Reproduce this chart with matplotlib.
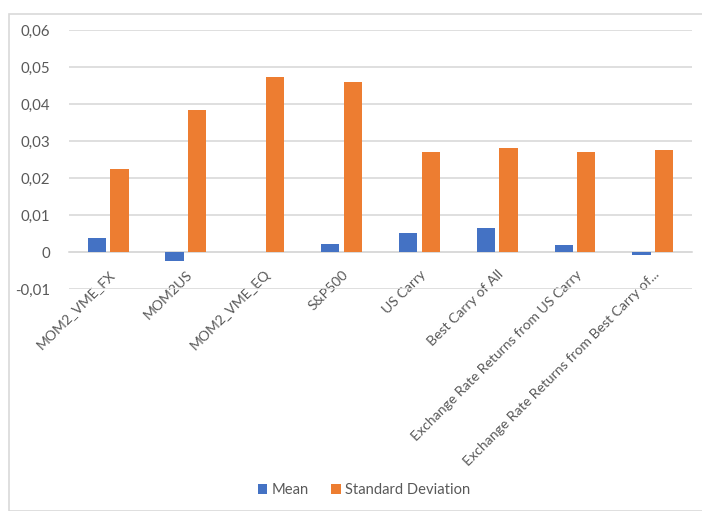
import matplotlib.pyplot as plt
import numpy as np
from matplotlib.patches import Rectangle

categories = ['MOM2_VME_FX', 'MOM2US', 'MOM2_VME_EQ', 'S&P500', 'US Carry',
              'Best Carry of All', 'Exchange Rate Returns from US Carry',
              'Exchange Rate Returns from Best Carry of...']
mean_vals = [0.0038, -0.0023, 0.0, 0.0022, 0.0052, 0.0065, 0.0020, -0.0009]
std_vals = [0.0224, 0.0385, 0.0474, 0.0460, 0.0269, 0.0281, 0.0269, 0.0276]
y_ticks = [-0.01, 0, 0.01, 0.02, 0.03, 0.04, 0.05, 0.06]
y_tick_labels = ['-0,01', '0', '0,01', '0,02', '0,03', '0,04', '0,05', '0,06']

plt.rcParams['font.family'] = ['Lato', 'DejaVu Sans']
text_col = '#595959'
grid_col = '#d9d9d9'

W, H = 702, 511
fig = plt.figure(figsize=(W / 100, H / 100), dpi=100)

# outer chart frame
fig.patches.append(Rectangle((9 / W, 0), 1, 1 - 14 / H, transform=fig.transFigure,
                             fill=False, edgecolor=grid_col, lw=1.2))

ax = fig.add_axes([69.4 / W, 1 - 289 / H, (692 - 69.4) / W, (289 - 30) / H])

x = np.arange(len(categories))
bw = 0.235
ax.bar(x - 0.148, mean_vals, bw, color='#4472C4', label='Mean', zorder=3)
ax.bar(x + 0.142, std_vals, bw, color='#ED7D31', label='Standard Deviation', zorder=3)

ax.set_xlim(-0.5, len(categories) - 0.5)
ax.set_ylim(-0.01, 0.06)
ax.set_yticks(y_ticks)
ax.set_yticklabels(y_tick_labels)
ax.yaxis.grid(True, color=grid_col, lw=1.2, zorder=0)

for s in ['top', 'right', 'left']:
    ax.spines[s].set_visible(False)
ax.spines['bottom'].set_position(('data', 0))
ax.spines['bottom'].set_color(grid_col)
ax.spines['bottom'].set_linewidth(1.2)
ax.spines['bottom'].set_zorder(2)

ax.set_xticks(x)
ax.set_xticklabels(categories, rotation=45, ha='right', va='top',
                   rotation_mode='anchor')
ax.tick_params(axis='x', length=0, pad=11.5, labelsize=10.1, colors=text_col)
ax.tick_params(axis='y', length=0, pad=14, labelsize=10.8, colors=text_col)

fig.legend(loc='center', bbox_to_anchor=(364 / W, 1 - 490 / H), ncol=2,
           frameon=False, fontsize=10.6, handlelength=0.65, handleheight=0.65,
           handletextpad=0.3, columnspacing=1.5, labelcolor=text_col)

fig.savefig('out.png', dpi=100)
